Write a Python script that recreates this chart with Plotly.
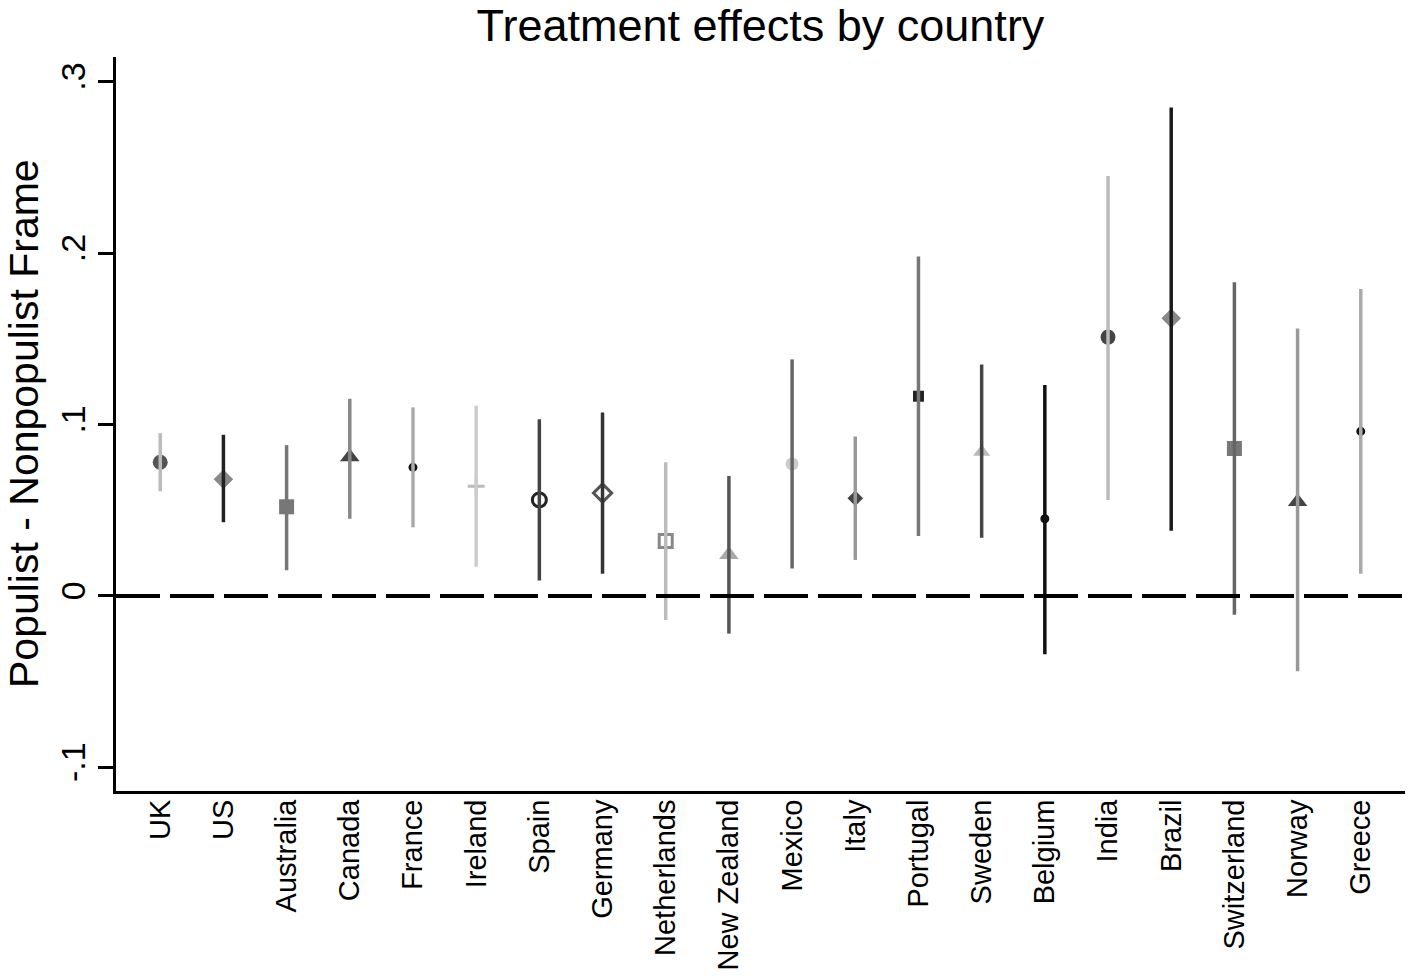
import plotly.graph_objects as go

countries = ["UK", "US", "Australia", "Canada", "France", "Ireland", "Spain", "Germany",
             "Netherlands", "New Zealand", "Mexico", "Italy", "Portugal", "Sweden",
             "Belgium", "India", "Brazil", "Switzerland", "Norway", "Greece"]
estimate = [0.078, 0.068, 0.052, 0.081, 0.075, 0.064, 0.056, 0.060, 0.032, 0.024,
            0.077, 0.057, 0.1165, 0.084, 0.045, 0.151, 0.162, 0.086, 0.055, 0.096]
lower = [0.061, 0.043, 0.015, 0.045, 0.040, 0.017, 0.009, 0.013, -0.014, -0.022,
         0.016, 0.021, 0.035, 0.034, -0.034, 0.056, 0.038, -0.011, -0.044, 0.013]
upper = [0.095, 0.094, 0.088, 0.115, 0.110, 0.111, 0.103, 0.107, 0.078, 0.070,
         0.138, 0.093, 0.198, 0.135, 0.123, 0.245, 0.285, 0.183, 0.156, 0.179]

ytick_vals = [-0.1, 0, 0.1, 0.2, 0.3]
ytick_text = ["-.1", "0", ".1", ".2", ".3"]

# styles
marker_symbols = ["circle", "diamond", "square", "triangle-up", "circle-open", "cross-thin",
                  "circle-open", "diamond-open", "square-open", "triangle-up", "circle",
                  "diamond", "square", "triangle-up", "circle-open", "circle", "diamond",
                  "square", "triangle-up", "circle-open"]
marker_colors = ["#555555", "#888888", "#777777", "#444444", "#111111", "#bbbbbb",
                 "#222222", "#555555", "#888888", "#aaaaaa", "#cccccc", "#444444",
                 "#222222", "#bbbbbb", "#111111", "#444444", "#888888", "#777777",
                 "#444444", "#111111"]
marker_sizes = [15, 15, 15, 17, 6, 12, 14, 14, 13, 17, 13, 12, 11, 15, 6, 15, 15, 15, 17, 6]
line_colors = ["#bbbbbb", "#222222", "#777777", "#888888", "#aaaaaa", "#cccccc",
               "#444444", "#333333", "#bbbbbb", "#555555", "#666666", "#999999",
               "#777777", "#444444", "#111111", "#bbbbbb", "#1a1a1a", "#666666",
               "#999999", "#aaaaaa"]

FONT = "Liberation Sans, Arial, sans-serif"

fig = go.Figure()

# markers first (CI lines drawn on top, as in the original)
for i, c in enumerate(countries):
    sym = marker_symbols[i]
    is_open = sym.endswith("open") or sym == "cross-thin"
    fig.add_trace(go.Scatter(
        x=[c], y=[estimate[i]], mode="markers", showlegend=False,
        marker=dict(symbol=sym, size=marker_sizes[i], color=marker_colors[i],
                    line=dict(color=marker_colors[i], width=3 if is_open else 0)),
    ))

for i, c in enumerate(countries):
    fig.add_trace(go.Scatter(
        x=[c, c], y=[lower[i], upper[i]], mode="lines", showlegend=False,
        line=dict(color=line_colors[i], width=3.5),
    ))

# zero reference line
fig.add_shape(type="line", xref="paper", yref="y", x0=0, x1=1, y0=0, y1=0,
              line=dict(color="black", width=4, dash="44px,10px"))

fig.update_layout(
    width=1418, height=980,
    margin=dict(l=116, r=13, t=57, b=189),
    paper_bgcolor="white", plot_bgcolor="white",
    font=dict(family=FONT, color="black"),
    title=dict(text="Treatment effects by country", x=0.5, xref="paper", xanchor="center",
               y=1 - 25 / 980, yref="container", yanchor="middle",
               font=dict(size=45, family=FONT, color="black")),
    xaxis=dict(type="category", categoryorder="array", categoryarray=countries,
               range=[-0.7, 19.7], showline=True, linecolor="black", linewidth=3,
               ticks="", showgrid=False, zeroline=False, tickangle=-90,
               automargin=False, ticklabelstandoff=-6,
               tickfont=dict(size=29, family=FONT, color="black")),
    yaxis=dict(range=[-0.1138, 0.3144], tickvals=ytick_vals, ticktext=ytick_text,
               showline=True, linecolor="black", linewidth=2.5, ticks="outside",
               ticklen=15, tickwidth=2.5, tickcolor="black", showgrid=False,
               zeroline=False, tickangle=-90, automargin=False, ticklabelstandoff=0,
               tickfont=dict(size=34, family=FONT, color="black")),
    annotations=[dict(text="Populist - Nonpopulist Frame", xref="paper", yref="paper",
                      x=(24 - 116) / 1289, y=0.5, xanchor="center", yanchor="middle",
                      textangle=-90, showarrow=False,
                      font=dict(size=41, family=FONT, color="black"))],
)

fig.write_html("out.html", config={"displayModeBar": False},
               post_script="document.body.style.margin='0';document.body.style.overflow='hidden';")
